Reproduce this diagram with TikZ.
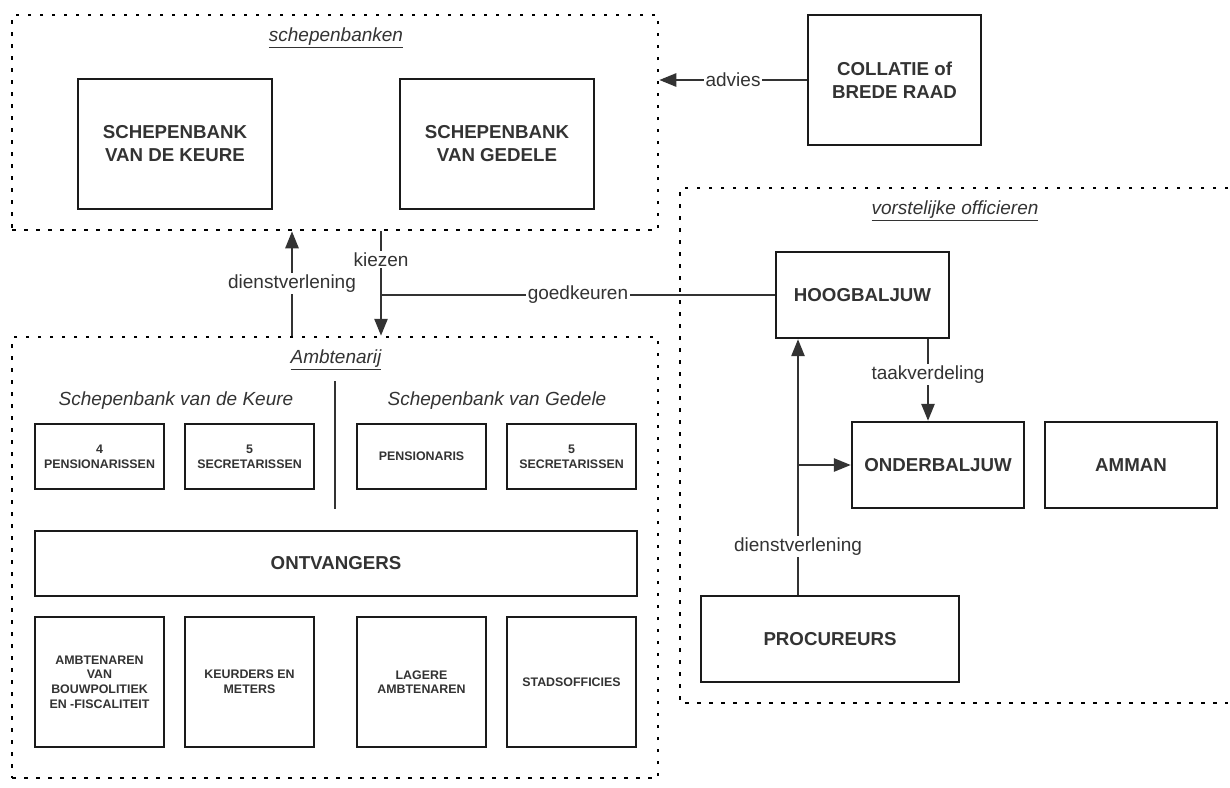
\documentclass[tikz,border=0pt]{standalone}
\usepackage{fontspec}
\setmainfont{Liberation Sans}
\usetikzlibrary{arrows.meta}
\definecolor{ink}{HTML}{333333}
\definecolor{edge}{HTML}{1A1A1A}
\begin{document}
\begin{tikzpicture}[x=1pt,y=-1pt,
  bx/.style={draw=edge, line width=2.3pt, inner sep=0pt, align=center, font=\bfseries\fontsize{18.7}{23}\selectfont, text=ink},
  sbx/.style={draw=edge, line width=2.1pt, inner sep=0pt, align=center, font=\bfseries\fontsize{12.4}{14.6}\selectfont, text=ink, minimum width=129pt},
  cont/.style={draw=black, line width=2.5pt, dash pattern=on 3.5pt off 8.5pt},
  ttl/.style={font=\itshape\fontsize{19}{22}\selectfont, text=ink},
  lbl/.style={fill=white, inner sep=1.5pt, font=\fontsize{19}{22}\selectfont, text=ink},
  con/.style={draw=ink, line width=2.6pt},
  arr/.style={con, -{Triangle[length=17pt,width=13pt]}},
]
\useasboundingbox (0,0) rectangle (1230,787);
\fill[white] (0,0) rectangle (1230,787);

% containers
\node[cont, minimum width=646pt, minimum height=215pt] (sb) at (335,122.5) {};
\node[cont, minimum width=646pt, minimum height=441pt] (amb) at (335,557.5) {};
\draw[cont] (1228,188) -- (680,188) -- (680,703) -- (1228,703);

\node[ttl] (tsb) at (336,38) {\underline{schepenbanken}};
\node[ttl] (tamb) at (336,360) {\underline{Ambtenarij}};
\node[ttl] (tvo) at (955,211) {\underline{vorstelijke officieren}};

% schepenbanken
\node[bx, minimum width=194pt, minimum height=130pt] (keure) at (175,144) {SCHEPENBANK\\VAN DE KEURE};
\node[bx, minimum width=194pt, minimum height=130pt] (gedele) at (497,144) {SCHEPENBANK\\VAN GEDELE};
\node[bx, minimum width=173pt, minimum height=130pt] (collatie) at (894.5,80) {COLLATIE of\\BREDE RAAD};

% vorstelijke officieren
\node[bx, minimum width=173pt, minimum height=86pt] (hoog) at (862.5,295) {HOOGBALJUW};
\node[bx, minimum width=172pt, minimum height=86pt] (onder) at (938,465) {ONDERBALJUW};
\node[bx, minimum width=172pt, minimum height=86pt] (amman) at (1131,465) {AMMAN};
\node[bx, minimum width=258pt, minimum height=86pt] (proc) at (830,639) {PROCUREURS};

% ambtenarij
\node[font=\itshape\fontsize{19}{22}\selectfont, text=ink] (skeure) at (176,401) {Schepenbank van de Keure};
\node[font=\itshape\fontsize{19}{22}\selectfont, text=ink] (sgedele) at (497,401) {Schepenbank van Gedele};
\draw[ink, line width=1.2pt] (335,381) -- (335,509);

\node[sbx, minimum height=65pt] (pen4) at (99.5,456.5) {4\\PENSIONARISSEN};
\node[sbx, minimum height=65pt] (sec5a) at (249.5,456.5) {5\\SECRETARISSEN};
\node[sbx, minimum height=65pt] (pen) at (421.5,456.5) {PENSIONARIS};
\node[sbx, minimum height=65pt] (sec5b) at (571.5,456.5) {5\\SECRETARISSEN};

\node[bx, line width=2.1pt, minimum width=602pt, minimum height=65pt] (ontv) at (336,563.5) {ONTVANGERS};

\node[sbx, minimum height=130pt] (bouw) at (99.5,682) {AMBTENAREN\\VAN\\BOUWPOLITIEK\\EN -FISCALITEIT};
\node[sbx, minimum height=130pt] (keurders) at (249.5,682) {KEURDERS EN\\METERS};
\node[sbx, minimum height=130pt] (lagere) at (421.5,682) {LAGERE\\AMBTENAREN};
\node[sbx, minimum height=130pt] (stads) at (571.5,682) {STADSOFFICIES};

% connector helpers
\coordinate (ds) at (292,0);
\coordinate (kz) at (381,0);
\coordinate (tk) at (928,0);
\coordinate (pv) at (798,465);

% connectors
\draw[arr] (collatie.west) -- (collatie.west -| sb.east) node[lbl, pos=0.5] (ladv) {advies};
\draw[arr] (amb.north -| ds) -- (sb.south -| ds) node[lbl, pos=0.5] (ldv1) {dienstverlening};
\draw[arr] (sb.south -| kz) -- (amb.north -| kz) node[lbl, pos=0.27] (lkz) {kiezen};
\draw[con] (hoog.west) -- (hoog.west -| kz) node[lbl, pos=0.5] (lgk) {goedkeuren};
\draw[arr] (hoog.south -| tk) -- (onder.north -| tk) node[lbl, pos=0.43] (ltk) {taakverdeling};
\draw[arr] (proc.north -| pv) -- (hoog.south -| pv) node[lbl, pos=0.19] (ldv2) {dienstverlening};
\draw[arr] (pv) -- (pv -| onder.west);
\end{tikzpicture}
\end{document}
